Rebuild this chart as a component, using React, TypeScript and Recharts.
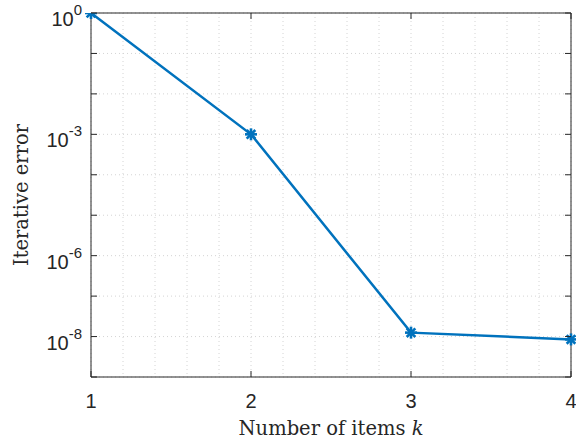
import React from 'react';
import { LineChart, Line, XAxis, YAxis, CartesianGrid } from 'recharts';

const items = [1, 2, 3, 4];
const errors = [1, 1.0e-3, 1.25e-8, 8.5e-9];

const xTicks = [1, 1.2, 1.4, 1.6, 1.8, 2, 2.2, 2.4, 2.6, 2.8, 3, 3.2, 3.4, 3.6, 3.8, 4];
const xMajor = [1, 2, 3, 4];
const yTicks = [1e-9, 1e-8, 1e-7, 1e-6, 1e-5, 1e-4, 1e-3, 1e-2, 1e-1, 1];
const yLabelled = [0, -3, -6, -8];

const data = items.map((k, i) => ({ k, err: errors[i] }));

const AXIS = '#262626';
const BLUE = '#0072BD';
const SANS = '"Liberation Sans", Arial, sans-serif';
const SERIF = '"DejaVu Serif", "Liberation Serif", serif';

const isMajor = (v: number) => xMajor.some((m) => Math.abs(m - v) < 1e-6);

const BottomTick = (props: any) => {
  const { x, y, payload } = props;
  if (!isMajor(payload.value)) return null;
  return (
    <g>
      <line x1={x} x2={x} y1={y} y2={y - 6} stroke={AXIS} strokeWidth={1} />
      <text x={x} y={y + 31} textAnchor="middle" fontFamily={SANS} fontSize={20} fill={AXIS}>
        {Math.round(payload.value)}
      </text>
    </g>
  );
};

const TopTick = (props: any) => {
  const { x, y, payload } = props;
  if (!isMajor(payload.value)) return null;
  return <line x1={x} x2={x} y1={y} y2={y + 6} stroke={AXIS} strokeWidth={1} />;
};

const LeftTick = (props: any) => {
  const { x, y, payload } = props;
  const e = Math.round(Math.log10(payload.value));
  const show = yLabelled.includes(e);
  return (
    <g>
      <line x1={x} x2={x + 6} y1={y} y2={y} stroke={AXIS} strokeWidth={1} />
      {show && (
        <text x={x - 9} y={y + 13} textAnchor="end" fontFamily={SANS} fontSize={20} fill={AXIS}>
          <tspan>10</tspan>
          <tspan dy={-11} fontSize={15}>{e}</tspan>
        </text>
      )}
    </g>
  );
};

const RightTick = (props: any) => {
  const { x, y } = props;
  return <line x1={x} x2={x - 6} y1={y} y2={y} stroke={AXIS} strokeWidth={1} />;
};

const StarDot = (props: any) => {
  const { cx, cy } = props;
  if (cx == null || cy == null) return null;
  const r = 6;
  const d = r * 0.72;
  return (
    <g stroke={BLUE} strokeWidth={2.6}>
      <line x1={cx - r} x2={cx + r} y1={cy} y2={cy} />
      <line x1={cx} x2={cx} y1={cy - r} y2={cy + r} />
      <line x1={cx - d} x2={cx + d} y1={cy - d} y2={cy + d} />
      <line x1={cx - d} x2={cx + d} y1={cy + d} y2={cy - d} />
    </g>
  );
};

const XLabel = (props: any) => {
  const { viewBox } = props;
  const cx = viewBox.x + viewBox.width / 2;
  return (
    <text x={cx} y={viewBox.y + 58} textAnchor="middle" fontFamily={SERIF} fontSize={19.5} fill={AXIS}>
      Number of items <tspan fontStyle="italic">k</tspan>
    </text>
  );
};

const YLabel = (props: any) => {
  const { viewBox } = props;
  const cy = viewBox.y + viewBox.height / 2;
  const lx = 28;
  return (
    <text
      x={lx}
      y={cy}
      transform={`rotate(-90 ${lx} ${cy})`}
      textAnchor="middle"
      fontFamily={SERIF}
      fontSize={19.5}
      fill={AXIS}
    >
      Iterative error
    </text>
  );
};

export default function App() {
  return (
    <div style={{ position: 'absolute', left: 0, top: 0, width: 576, height: 446, background: '#fff' }}>
      <LineChart width={576} height={446} data={data} margin={{ top: 12, right: 4, bottom: 0, left: 0 }}>
        <CartesianGrid stroke="#d4d4d4" strokeDasharray="1 3" strokeWidth={1} />
        <XAxis
          dataKey="k"
          type="number"
          domain={[1, 4]}
          ticks={xTicks}
          interval={0}
          height={69}
          tickSize={0}
          tickMargin={0}
          tickLine={false}
          axisLine={{ stroke: AXIS, strokeWidth: 1 }}
          tick={<BottomTick />}
          label={<XLabel />}
        />
        <XAxis
          xAxisId="top"
          orientation="top"
          type="number"
          domain={[1, 4]}
          ticks={xTicks}
          interval={0}
          height={1}
          tickSize={0}
          tickMargin={0}
          tickLine={false}
          axisLine={{ stroke: AXIS, strokeWidth: 1 }}
          tick={<TopTick />}
        />
        <YAxis
          scale="log"
          type="number"
          domain={[1e-9, 1]}
          ticks={yTicks}
          interval={0}
          allowDataOverflow
          width={91}
          tickSize={0}
          tickMargin={0}
          tickLine={false}
          axisLine={{ stroke: AXIS, strokeWidth: 1 }}
          tick={<LeftTick />}
          label={<YLabel />}
        />
        <YAxis
          yAxisId="right"
          orientation="right"
          scale="log"
          type="number"
          domain={[1e-9, 1]}
          ticks={yTicks}
          interval={0}
          allowDataOverflow
          width={1}
          tickSize={0}
          tickMargin={0}
          tickLine={false}
          axisLine={{ stroke: AXIS, strokeWidth: 1 }}
          tick={<RightTick />}
        />
        <Line
          type="linear"
          dataKey="err"
          stroke={BLUE}
          strokeWidth={2.5}
          dot={<StarDot />}
          activeDot={false}
          isAnimationActive={false}
        />
      </LineChart>
    </div>
  );
}
